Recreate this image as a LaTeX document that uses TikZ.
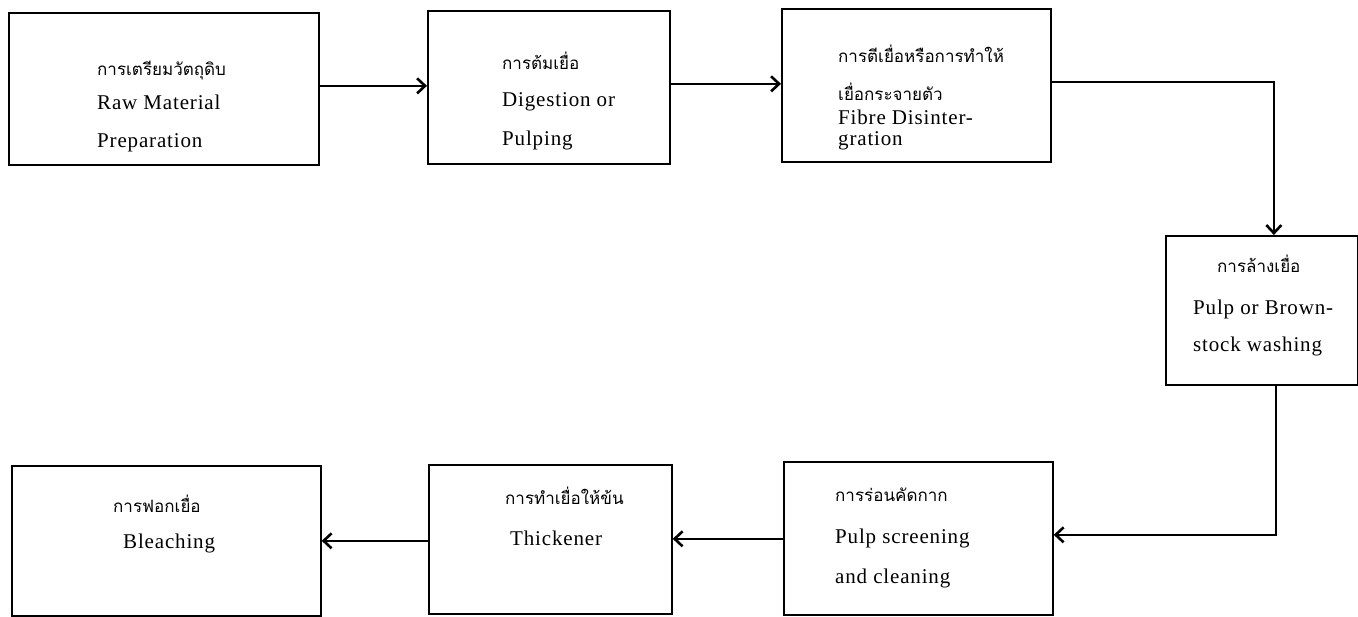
\documentclass[tikz,border=0pt]{standalone}
\usepackage{fontspec}
\setmainfont{Liberation Serif}[LetterSpace=4]
\newfontfamily\thaifont[Script=Thai]{Loma}
\usetikzlibrary{arrows.meta,calc}
\begin{document}
\begin{tikzpicture}[x=1pt,y=-1pt,
  box/.style={draw, line width=1.7pt, anchor=north west, inner sep=0pt},
  en/.style={anchor=base west, inner sep=0pt, font=\fontsize{21}{24}\selectfont},
  th/.style={anchor=base west, inner sep=0pt, font=\thaifont\fontsize{17}{20}\selectfont},
  link/.style={line width=1.7pt, -{Straight Barb[length=8pt,width=15pt,line width=2.6pt]}}]
\useasboundingbox (0,0) rectangle (1358,617);
% boxes
\node[box, minimum width=310pt, minimum height=152pt] (b1) at (8,12) {};
\node[box, minimum width=242pt, minimum height=153pt] (b2) at (427,10) {};
\node[box, minimum width=269pt, minimum height=153pt] (b3) at (781,8) {};
\node[box, minimum width=192pt, minimum height=149pt] (b4) at (1165,235) {};
\node[box, minimum width=309pt, minimum height=150pt] (b5) at (11,465) {};
\node[box, minimum width=243pt, minimum height=149pt] (b6) at (428,464) {};
\node[box, minimum width=269pt, minimum height=153pt] (b7) at (783,461) {};
% texts
\node[th] (t1a) at (97,76) {การเตรียมวัตถุดิบ};
\node[en] (t1b) at (97,110) {Raw Material};
\node[en] (t1c) at (97,148) {Preparation};
\node[th] (t2a) at (502,70) {การต้มเยื่อ};
\node[en] (t2b) at (502,107) {Digestion or};
\node[en] (t2c) at (502,146) {Pulping};
\node[th] (t3a) at (838,63) {การตีเยื่อหรือการทำให้};
\node[th] (t3b) at (838,101) {เยื่อกระจายตัว};
\node[en] (t3c) at (838,125) {Fibre Disinter-};
\node[en] (t3d) at (838,146) {gration};
\node[th] (t4a) at (1217,273) {การล้างเยื่อ};
\node[en] (t4b) at (1193,315) {Pulp or Brown-};
\node[en] (t4c) at (1193,352) {stock washing};
\node[th] (t5a) at (113,512) {การฟอกเยื่อ};
\node[en] (t5b) at (123,548) {Bleaching};
\node[th] (t6a) at (505,504) {การทำเยื่อให้ข้น};
\node[en] (t6b) at (510,545) {Thickener};
\node[th] (t7a) at (835,501) {การร่อนคัดกาก};
\node[en] (t7b) at (835,543) {Pulp screening};
\node[en] (t7c) at (835,583) {and cleaning};
% connectors
\draw[link] ([yshift=3pt]b1.east) -- ([yshift=3pt]b1.east -| b2.west);
\draw[link] ([yshift=3.5pt]b2.east) -- ([yshift=3.5pt]b2.east -| b3.west);
\draw[link] ([yshift=3.5pt]b3.east) -| ([xshift=12pt]b4.north);
\draw[link] ([xshift=14pt]b4.south) |- ([yshift=3.5pt]b7.east);
\draw[link] ([yshift=-0.5pt]b7.west) -- ([yshift=-0.5pt]b7.west -| b6.east);
\draw[link] ([yshift=-1.5pt]b6.west) -- ([yshift=-1.5pt]b6.west -| b5.east);
\end{tikzpicture}
\end{document}
